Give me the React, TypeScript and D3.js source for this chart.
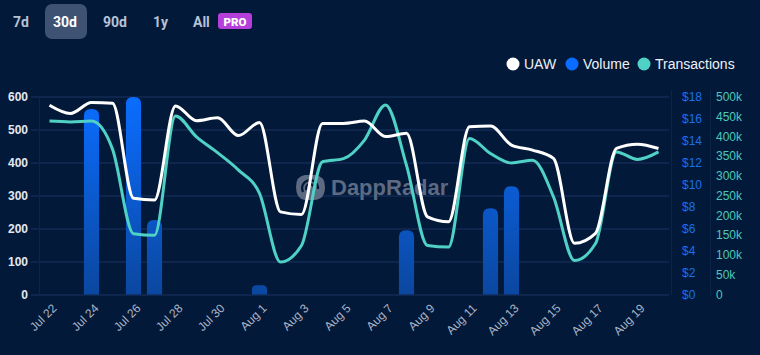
import React from "react";
import * as d3 from "d3";

const days = [
  "Jul 22","Jul 23","Jul 24","Jul 25","Jul 26","Jul 27","Jul 28","Jul 29","Jul 30","Jul 31",
  "Aug 1","Aug 2","Aug 3","Aug 4","Aug 5","Aug 6","Aug 7","Aug 8","Aug 9","Aug 10",
  "Aug 11","Aug 12","Aug 13","Aug 14","Aug 15","Aug 16","Aug 17","Aug 18","Aug 19","Aug 20",
];
const uaw = [575,550,583,581,293,288,573,528,537,483,523,252,244,520,520,527,480,490,237,222,510,512,454,439,414,157,187,444,457,444];
const volume = [0,0,16.9,0,18,6.8,0,0,0,0,0.85,0,0,0,0,0,0,5.85,0,0,0,7.86,9.87,0,0,0,0,0,0,0];
const transactions = [439000,437000,439000,368000,154000,150000,452000,399000,359000,315000,256000,82000,124000,336000,344000,391000,480000,327000,124000,120000,395000,357000,333000,340000,247000,86000,129000,361000,342000,361000];
const leftTicks = [0,100,200,300,400,500,600];
const usdTicks = [0,2,4,6,8,10,12,14,16,18];
const txTicks = [0,50000,100000,150000,200000,250000,300000,350000,400000,450000,500000];
const ranges = ["7d","30d","90d","1y","All"];

const BG = "#03193a";
const GRID = "#1b3560";
const FONT = "'Liberation Sans', Arial, sans-serif";
const WM = "#5c6a82";

export default function App() {
  const W = 760, H = 355;
  const x = d3.scaleBand<string>().domain(days).range([39, 669]).paddingInner(0.28).paddingOuter(0.14);
  const xc = (d: string) => (x(d) as number) + x.bandwidth() / 2;
  const yL = d3.scaleLinear().domain([0, 600]).range([295, 97]);
  const yU = d3.scaleLinear().domain([0, 18]).range([294.5, 97]);
  const yT = d3.scaleLinear().domain([0, 500000]).range([294.5, 97]);

  const uawLine = d3.line<number>().x((_, i) => xc(days[i])).y((v) => yL(v)).curve(d3.curveMonotoneX);
  const txLine = d3.line<number>().x((_, i) => xc(days[i])).y((v) => yT(v)).curve(d3.curveMonotoneX);

  const bw = x.bandwidth();
  const barPath = (d: string, v: number) => {
    const x0 = x(d) as number;
    const y0 = yU(v);
    const yb = yU(0);
    const r = Math.min(7, (yb - y0) / 2, bw / 2);
    return `M${x0},${yb}L${x0},${y0 + r}Q${x0},${y0} ${x0 + r},${y0}L${x0 + bw - r},${y0}Q${x0 + bw},${y0} ${x0 + bw},${y0 + r}L${x0 + bw},${yb}Z`;
  };

  const btnX = [13, 53, 103, 153, 193];
  const labelDays = days.filter((_, i) => i % 2 === 0 && i < 29);

  return (
    <svg width={W} height={H} style={{ display: "block", position: "absolute", left: 0, top: 0, background: BG }}>
      <defs>
        <linearGradient id="barGrad" gradientUnits="userSpaceOnUse" x1="0" y1="97" x2="0" y2="295">
          <stop offset="0" stopColor="#0a6dff" />
          <stop offset="1" stopColor="#0b479f" />
        </linearGradient>
      </defs>
      <rect width={W} height={H} fill={BG} />

      {/* range buttons */}
      <rect x={45} y={4} width={42} height={35} rx={7} fill="#3e5274" />
      {ranges.map((r, i) => (
        <text key={r} x={btnX[i]} y={27} fontFamily="Roboto, sans-serif" fontWeight={700} fontSize={14}
          fill={r === "30d" ? "#ffffff" : "#b6c2d4"}>{r}</text>
      ))}
      <rect x={218} y={13} width={34} height={16} rx={3} fill="#b63fdb" />
      <text x={235} y={25.5} textAnchor="middle" fontFamily="Roboto, sans-serif" fontWeight={900} fontSize={11.5} fill="#ffffff">PRO</text>

      {/* legend */}
      <circle cx={513} cy={64} r={6.5} fill="#ffffff" />
      <text x={524} y={69} fontFamily={FONT} fontSize={14} fill="#eef2f7">UAW</text>
      <circle cx={572} cy={64} r={6.5} fill="#0a6dff" />
      <text x={583} y={69} fontFamily={FONT} fontSize={14} fill="#eef2f7">Volume</text>
      <circle cx={644} cy={64} r={6.5} fill="#4fd1c5" />
      <text x={655} y={69} fontFamily={FONT} fontSize={14} fill="#eef2f7">Transactions</text>

      {/* grid */}
      {leftTicks.map((t) => (
        <g key={t}>
          <line x1={31} x2={669} y1={yL(t)} y2={yL(t)} stroke={GRID} strokeWidth={1} />
          <text x={28} y={yL(t) + 4} textAnchor="end" fontFamily={FONT} fontWeight={700} fontSize={12} fill="#e3e8ef">{t}</text>
        </g>
      ))}
      <line x1={39.5} x2={39.5} y1={97} y2={295} stroke="#0c2447" />
      <line x1={671.5} x2={671.5} y1={90} y2={295} stroke="#0c2447" />
      <line x1={710.5} x2={710.5} y1={90} y2={295} stroke="#0c2447" />

      {/* right axes */}
      {usdTicks.map((t) => (
        <text key={t} x={682} y={yU(t) + 4} fontFamily={FONT} fontSize={12} fill="#1a6fea">{`$${t}`}</text>
      ))}
      {txTicks.map((t) => (
        <text key={t} x={716} y={yT(t) + 4} fontFamily={FONT} fontSize={12} fill="#4cc8bb">{t === 0 ? "0" : `${t / 1000}k`}</text>
      ))}

      {/* watermark */}
      <g>
        <path d="M296,187 Q296,176 305,175 L315,175 Q325,176 325,187 Q325,199 315,200 L305,200 Q296,199 296,187Z" fill={WM} />
        <path d="M303,192 A8,8 0 1 1 318,189" fill="none" stroke={BG} strokeWidth={2.2} />
        <path d="M306.5,190 A4,4 0 1 1 314,188.5" fill="none" stroke={BG} strokeWidth={2.2} />
        <text x={331} y={194.5} fontFamily={FONT} fontWeight={700} fontSize={22} fill={WM}>DappRadar</text>
      </g>

      {/* bars */}
      {days.map((d, i) => volume[i] > 0 ? (
        <path key={d} d={barPath(d, volume[i])} fill="url(#barGrad)" />
      ) : null)}

      {/* lines */}
      <path d={txLine(transactions) || ""} fill="none" stroke="#4fd1c5" strokeWidth={3} strokeLinejoin="round" />
      <path d={uawLine(uaw) || ""} fill="none" stroke="#ffffff" strokeWidth={3} strokeLinejoin="round" />

      {/* x labels */}
      {labelDays.map((d) => (
        <text key={d} transform={`translate(${xc(d) + 8},${309}) rotate(-45)`} textAnchor="end"
          fontFamily={FONT} fontSize={12} fill="#a9b4c5">{d}</text>
      ))}
    </svg>
  );
}
